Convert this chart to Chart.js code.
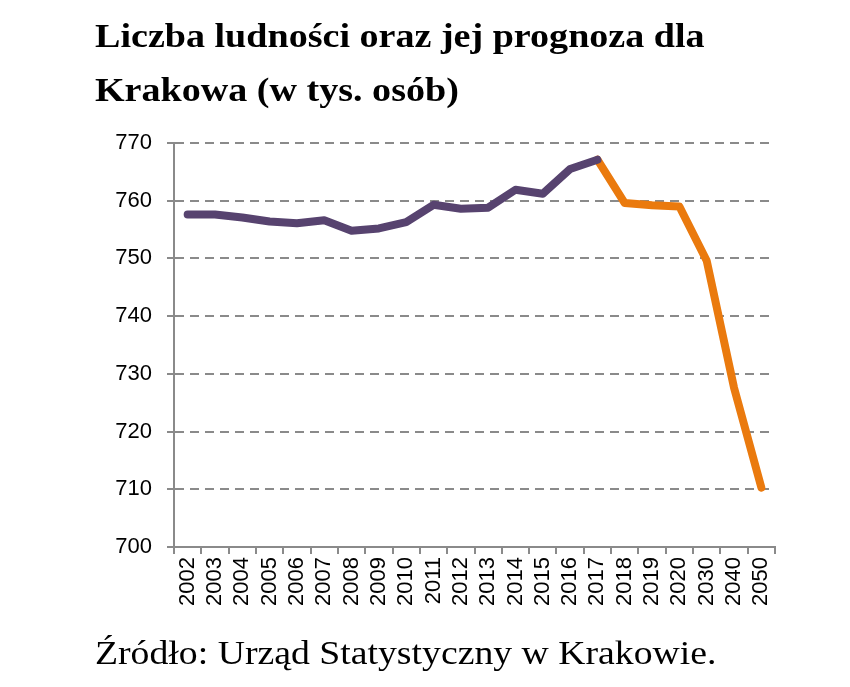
<!DOCTYPE html>
<html>
<head>
<meta charset="utf-8">
<script src="https://cdn.jsdelivr.net/npm/chart.js@4"></script>
<style>
  body { margin: 0; background: #fff; }
  #wrap { position: relative; width: 850px; height: 687px; }
  #myChart { position: absolute; left: 0; top: 0; }
  .title { position: absolute; left: 95px; font-family: "Liberation Serif", serif; font-weight: bold; font-size: 34px; color: #000; white-space: nowrap; transform: scaleX(1.12); transform-origin: left top; }
  .source { position: absolute; left: 95px; top: 634px; font-family: "Liberation Serif", serif; font-size: 34px; color: #000; white-space: nowrap; transform: scaleX(1.11); transform-origin: left top; }
</style>
</head>
<body>
<div id="wrap">
  <canvas id="myChart" width="850" height="687"></canvas>
  <div class="title" style="top:17px">Liczba ludności oraz jej prognoza dla</div>
  <div class="title" style="top:71px">Krakowa (w tys. osób)</div>
  <div class="source">Źródło: Urząd Statystyczny w Krakowie.</div>
</div>
<script>
// categories
var years = ['2002', '2003', '2004', '2005', '2006', '2007', '2008', '2009', '2010', '2011',
  '2012', '2013', '2014', '2015', '2016', '2017', '2018', '2019', '2020', '2030', '2040', '2050'];

// population 2002-2017 (thousands)
var pastValues = [757.6, 757.6, 757.1, 756.4, 756.1, 756.6, 754.8, 755.2, 756.3, 759.3,
  758.6, 758.8, 761.9, 761.2, 765.5, 767.1];

// forecast 2017-2050 (thousands)
var forecastValues = [767.1, 759.6, 759.2, 759.0, 749.6, 727.6, 710.3];

var yTicks = [700, 710, 720, 730, 740, 750, 760, 770];

// pad the two series so they share the same x axis
var pastData = pastValues.concat(new Array(years.length - pastValues.length).fill(null));
var forecastData = new Array(years.length - forecastValues.length).fill(null).concat(forecastValues);

var gray = '#8a8a8a';

var ctx = document.getElementById('myChart').getContext('2d');
var myChart = new Chart(ctx, {
  type: 'line',
  data: {
    labels: years,
    datasets: [{
      data: pastData,
      borderColor: '#57436f',
      borderWidth: 8,
      pointRadius: 0,
      borderJoinStyle: 'round',
      borderCapStyle: 'round',
      tension: 0
    }, {
      data: forecastData,
      borderColor: '#ea7a0e',
      borderWidth: 8,
      pointRadius: 0,
      borderJoinStyle: 'round',
      borderCapStyle: 'round',
      tension: 0
    }]
  },
  options: {
    responsive: false,
    animation: false,
    layout: { padding: { top: 143, left: 0, right: 75, bottom: 0 } },
    plugins: {
      legend: { display: false },
      tooltip: { enabled: false }
    },
    scales: {
      x: {
        offset: true,
        grid: {
          offset: true,
          drawOnChartArea: false,
          color: gray,
          lineWidth: 2,
          tickLength: 7
        },
        border: { color: gray, width: 2 },
        ticks: {
          color: '#000',
          font: { family: 'Liberation Sans', size: 22 },
          minRotation: 90,
          maxRotation: 90,
          autoSkip: false,
          padding: 3
        },
        afterFit: function(scale) { scale.height = 140; }
      },
      y: {
        min: 700,
        max: 770,
        afterBuildTicks: function(scale) {
          scale.ticks = yTicks.map(function(v) { return { value: v }; });
        },
        grid: {
          color: function(c) { return c.tick && c.tick.value === 700 ? 'rgba(0,0,0,0)' : gray; },
          tickColor: gray,
          lineWidth: 2,
          tickLength: 7,
          tickBorderDash: []
        },
        border: { color: gray, width: 2, dash: [9, 6] },
        ticks: {
          color: '#000',
          font: { family: 'Liberation Sans', size: 22 },
          padding: 15
        },
        afterFit: function(scale) { scale.width = 174; }
      }
    }
  }
});
</script>
</body>
</html>
